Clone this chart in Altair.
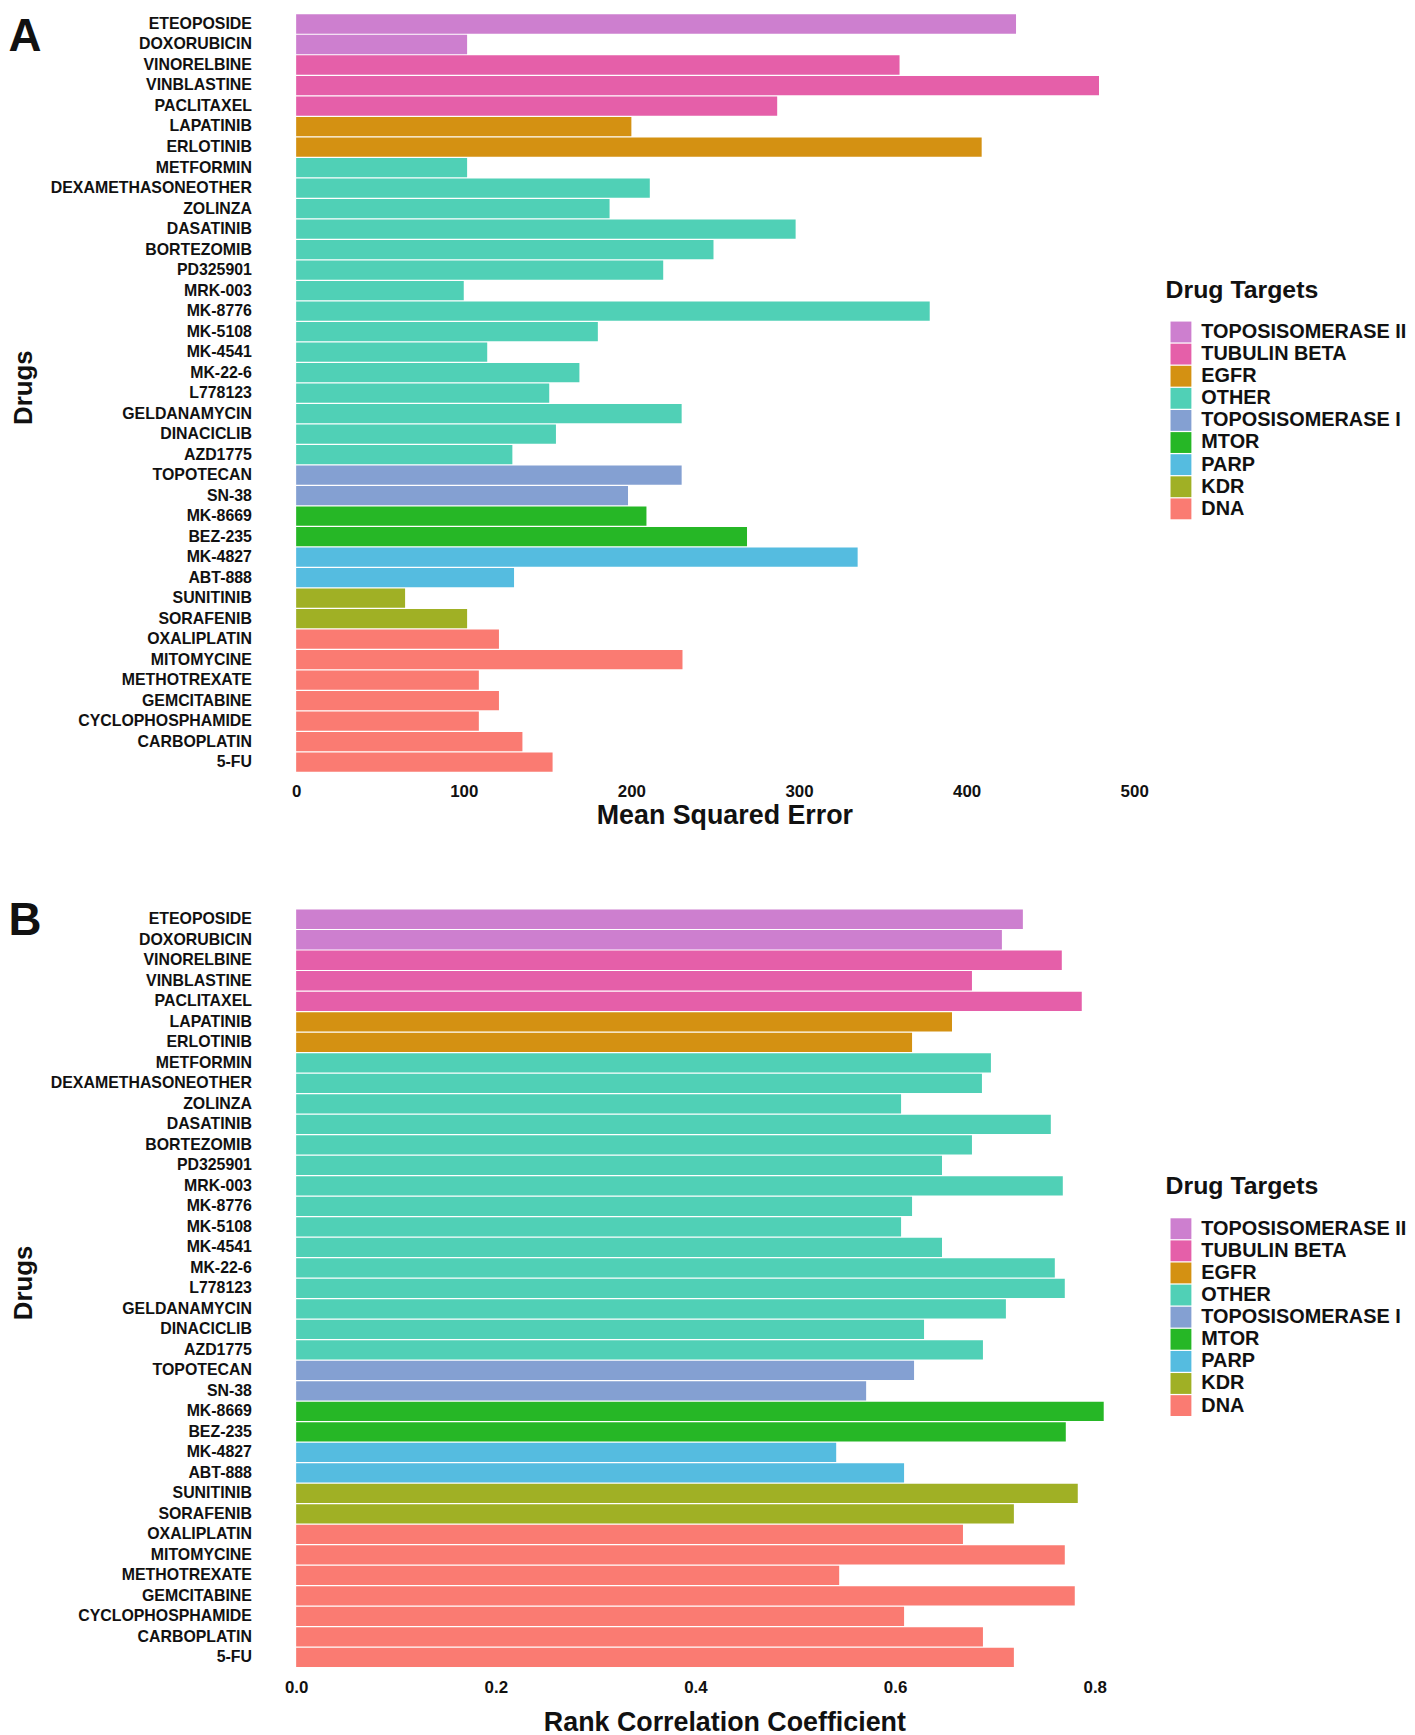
import altair as alt
import pandas as pd

drugs = ["ETEOPOSIDE", "DOXORUBICIN", "VINORELBINE", "VINBLASTINE", "PACLITAXEL",
         "LAPATINIB", "ERLOTINIB", "METFORMIN", "DEXAMETHASONEOTHER", "ZOLINZA",
         "DASATINIB", "BORTEZOMIB", "PD325901", "MRK-003", "MK-8776", "MK-5108",
         "MK-4541", "MK-22-6", "L778123", "GELDANAMYCIN", "DINACICLIB", "AZD1775",
         "TOPOTECAN", "SN-38", "MK-8669", "BEZ-235", "MK-4827", "ABT-888",
         "SUNITINIB", "SORAFENIB", "OXALIPLATIN", "MITOMYCINE", "METHOTREXATE",
         "GEMCITABINE", "CYCLOPHOSPHAMIDE", "CARBOPLATIN", "5-FU"]

targets = ["TOPOSISOMERASE II", "TOPOSISOMERASE II",
           "TUBULIN BETA", "TUBULIN BETA", "TUBULIN BETA",
           "EGFR", "EGFR",
           "OTHER", "OTHER", "OTHER", "OTHER", "OTHER", "OTHER", "OTHER", "OTHER",
           "OTHER", "OTHER", "OTHER", "OTHER", "OTHER", "OTHER", "OTHER",
           "TOPOSISOMERASE I", "TOPOSISOMERASE I",
           "MTOR", "MTOR",
           "PARP", "PARP",
           "KDR", "KDR",
           "DNA", "DNA", "DNA", "DNA", "DNA", "DNA", "DNA"]

mse = [429.5, 102, 360, 479, 287, 200, 409, 102, 211, 187, 298, 249, 219, 100,
       378, 180, 114, 169, 151, 230, 155, 129, 230, 198, 209, 269, 335, 130,
       65, 102, 121, 230.5, 109, 121, 109, 135, 153]

rank_corr = [0.728, 0.707, 0.767, 0.677, 0.787, 0.657, 0.617, 0.696, 0.687, 0.606,
             0.756, 0.677, 0.647, 0.768, 0.617, 0.606, 0.647, 0.760, 0.770, 0.711,
             0.629, 0.688, 0.619, 0.571, 0.809, 0.771, 0.541, 0.609, 0.783, 0.719,
             0.668, 0.770, 0.544, 0.780, 0.609, 0.688, 0.719]

target_order = ["TOPOSISOMERASE II", "TUBULIN BETA", "EGFR", "OTHER", "TOPOSISOMERASE I",
                "MTOR", "PARP", "KDR", "DNA"]
target_colors = ["#CD7FCF", "#E55FA9", "#D49112", "#50D0B6", "#84A0D2",
                 "#26B726", "#55BCE0", "#A0B025", "#FA7B72"]

mse_ticks = [0, 100, 200, 300, 400, 500]
rank_ticks = [0.0, 0.2, 0.4, 0.6, 0.8]

df = pd.DataFrame({"Drug": drugs, "Target": targets, "MSE": mse, "Rank": rank_corr})

FONT = "Liberation Sans"
INK = "#111111"
W = 862
H = 764


def panel(field, title, domain, ticks, fmt, letter, letter_y, legend_y, title_y):
    y = alt.Y(
        "Drug:N", sort=drugs, title="Drugs",
        scale=alt.Scale(paddingInner=0.06, paddingOuter=0.04),
        axis=alt.Axis(ticks=False, domain=False, grid=False, labelPadding=45,
                      labelFontSize=16, labelFont=FONT, labelFontWeight="bold",
                      labelColor=INK, labelLimit=400, titleFont=FONT, titleFontSize=26,
                      titleFontWeight="bold", titleColor=INK, titleX=-274,
                      titleY=H / 2 - 6, titleAngle=270, titleBaseline="middle",
                      titleAlign="center"))
    x = alt.X(
        f"{field}:Q", title=title,
        scale=alt.Scale(domain=domain, nice=False, zero=True),
        axis=alt.Axis(values=ticks, format=fmt, grid=False, domain=False, ticks=False,
                      labelPadding=11.5, labelFontSize=17, labelFont=FONT,
                      labelFontWeight="bold", labelColor=INK, labelFlush=False,
                      titleFont=FONT, titleFontSize=27, titleFontWeight="bold",
                      titleColor=INK, titleY=title_y, titleBaseline="top"))
    color = alt.Color(
        "Target:N", scale=alt.Scale(domain=target_order, range=target_colors),
        legend=alt.Legend(title="Drug Targets", orient="none", legendX=875,
                          legendY=legend_y, padding=0, titleFont=FONT, titleFontSize=25,
                          titleFontWeight="bold", titleColor=INK, titlePadding=19,
                          labelFont=FONT, labelFontSize=20, labelFontWeight="bold",
                          labelColor=INK, labelLimit=400, symbolType="square",
                          symbolSize=441, symbolStrokeWidth=0, symbolOpacity=1,
                          rowPadding=1.25, labelOffset=10, symbolOffset=5))
    bars = alt.Chart(df).mark_bar(strokeWidth=0).encode(x=x, y=y, color=color)
    lab = alt.Chart(pd.DataFrame({"t": [letter]})).mark_text(
        font=FONT, fontSize=46, fontWeight="bold", color=INK, align="left",
        baseline="top").encode(text="t:N", x=alt.value(-289.5), y=alt.value(letter_y))
    return alt.layer(bars, lab).properties(width=W, height=H)


top = panel("MSE", "Mean Squared Error", [0, 511], mse_ticks, "d", "A", 1.2, 266, 30.5)
bottom = panel("Rank", "Rank Correlation Coefficient", [0, 0.858], rank_ticks, ".1f",
               "B", -10, 267.5, 42.5)

chart = alt.vconcat(top, bottom, spacing=69).resolve_legend(
    color="independent").properties(padding=0, background="white").configure_view(
    stroke=None)

chart.save("out.html", embed_options={"renderer": "svg", "actions": False})
